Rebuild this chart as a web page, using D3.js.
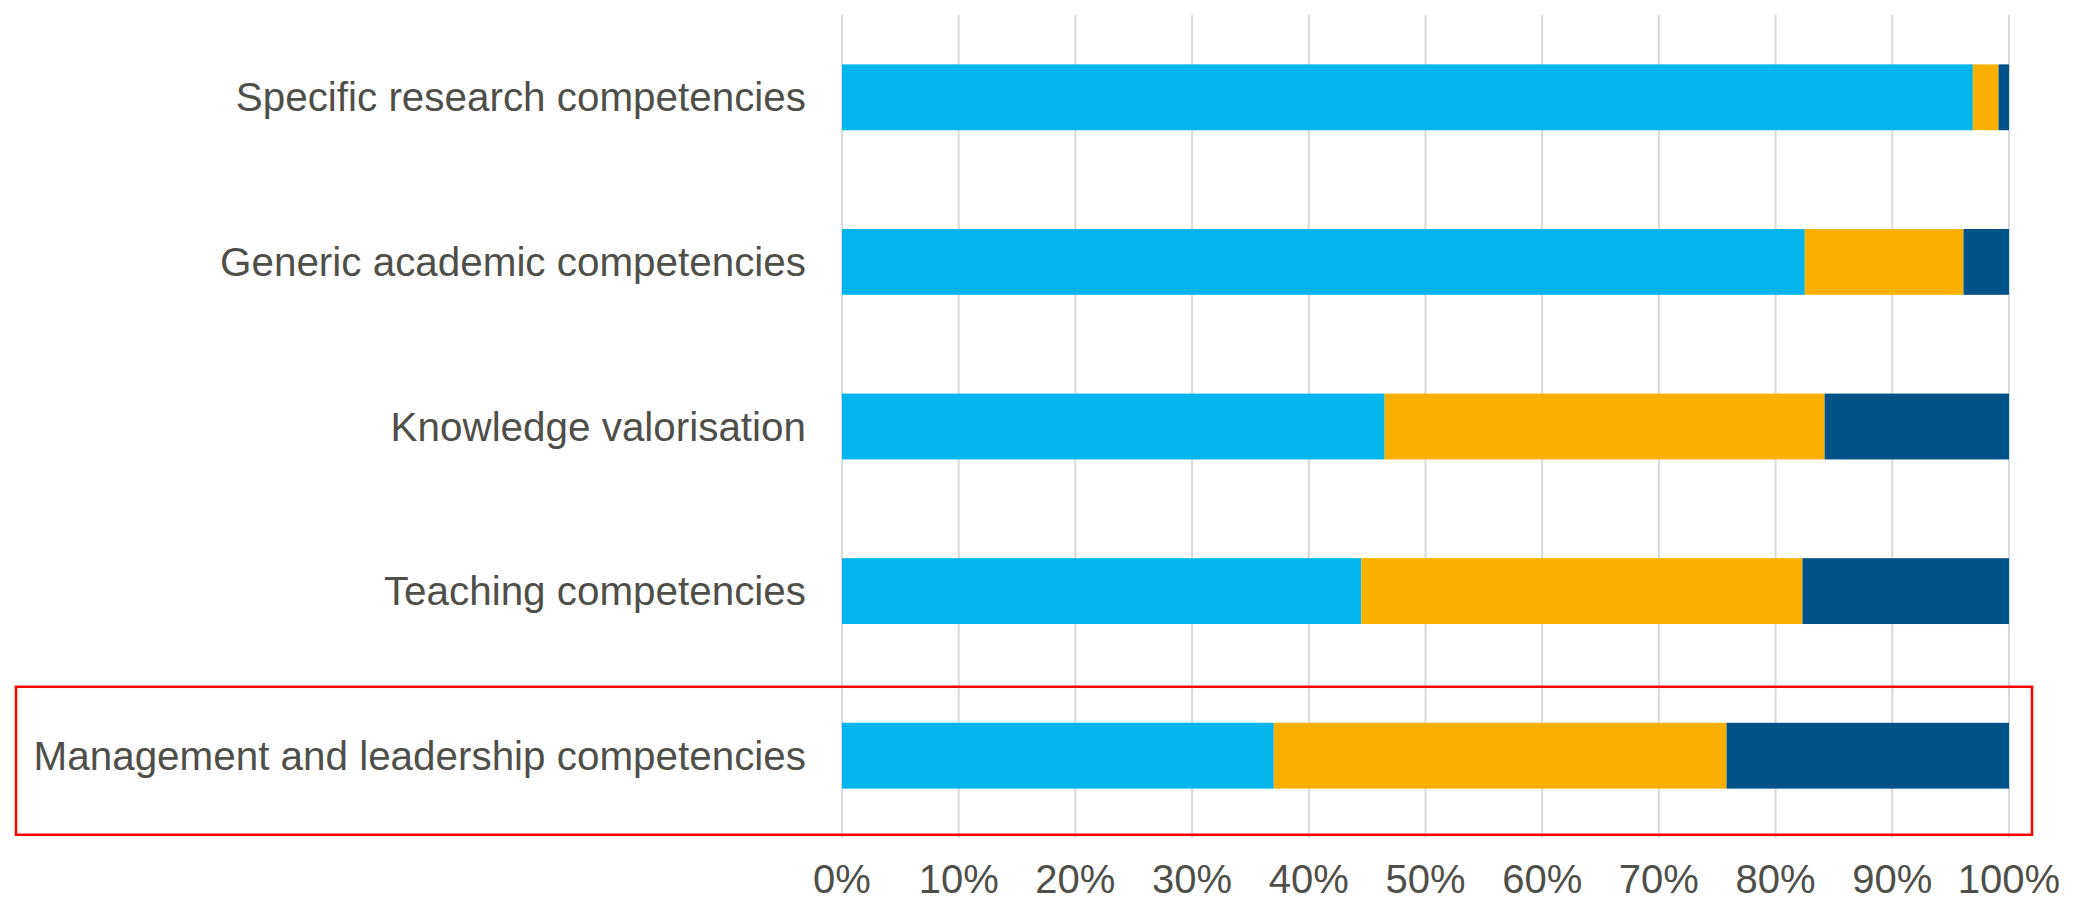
<!DOCTYPE html>
<html>
<head>
<meta charset="utf-8">
<script src="https://cdn.jsdelivr.net/npm/d3@7"></script>
<style>
  html, body { margin: 0; padding: 0; background: #ffffff; }
  svg { display: block; }
</style>
</head>
<body>
<svg id="chart" width="2073" height="901"></svg>
<script>
const categories = [
  "Specific research competencies",
  "Generic academic competencies",
  "Knowledge valorisation",
  "Teaching competencies",
  "Management and leadership competencies"
];
const seriesNames = ["Series 1", "Series 2", "Series 3"];
const series1 = [96.9, 82.5, 46.5, 44.5, 37.0];
const series2 = [2.2, 13.6, 37.7, 37.8, 38.8];
const series3 = [0.9, 3.9, 15.8, 17.7, 24.2];
const tickValues = [0, 10, 20, 30, 40, 50, 60, 70, 80, 90, 100];
const colors = ["#02b5ed", "#f9b000", "#005288"];
const highlighted = "Management and leadership competencies";

(function () {
  const rows = categories.map((c, i) => ({ cat: c, s0: series1[i], s1: series2[i], s2: series3[i] }));
  const stacked = d3.stack().keys(["s0", "s1", "s2"])(rows);

  const svg = d3.select("#chart");
  const plotLeft = 842, plotRight = 2009, plotTop = 15, plotBottom = 838;

  const x = d3.scaleLinear().domain([0, 100]).range([plotLeft, plotRight]);
  const y = d3.scaleBand().domain(categories).range([plotTop, plotBottom]).paddingInner(0.6).paddingOuter(0.3);

  // gridlines
  svg.append("g").selectAll("line").data(tickValues).join("line")
    .attr("x1", d => x(d)).attr("x2", d => x(d))
    .attr("y1", plotTop).attr("y2", plotBottom)
    .attr("stroke", "#d9d9d9").attr("stroke-width", 2);

  // bars
  svg.append("g").selectAll("g").data(stacked).join("g")
    .attr("fill", (d, i) => colors[i])
    .selectAll("rect").data(d => d).join("rect")
    .attr("x", d => x(d[0]))
    .attr("width", d => x(d[1]) - x(d[0]))
    .attr("y", d => y(d.data.cat))
    .attr("height", y.bandwidth());

  // category labels
  svg.append("g").selectAll("text").data(categories).join("text")
    .attr("x", 806)
    .attr("y", d => y(d) + y.bandwidth() / 2)
    .attr("dy", "0.35em")
    .attr("text-anchor", "end")
    .attr("font-family", "Liberation Sans, Arial, sans-serif")
    .attr("font-size", 40.4)
    .attr("fill", "#4f4f4a")
    .text(d => d);

  // x axis tick labels
  svg.append("g").selectAll("text").data(tickValues).join("text")
    .attr("x", d => x(d))
    .attr("y", 893)
    .attr("text-anchor", "middle")
    .attr("font-family", "Liberation Sans, Arial, sans-serif")
    .attr("font-size", 40)
    .attr("fill", "#4f4f4a")
    .text(d => d + "%");

  // highlight box
  const hy = y(highlighted);
  svg.append("rect")
    .attr("x", 16)
    .attr("y", hy - 36)
    .attr("width", 2032 - 16)
    .attr("height", 148)
    .attr("fill", "none")
    .attr("stroke", "#ff0000")
    .attr("stroke-width", 2.5);
})();
</script>
</body>
</html>
